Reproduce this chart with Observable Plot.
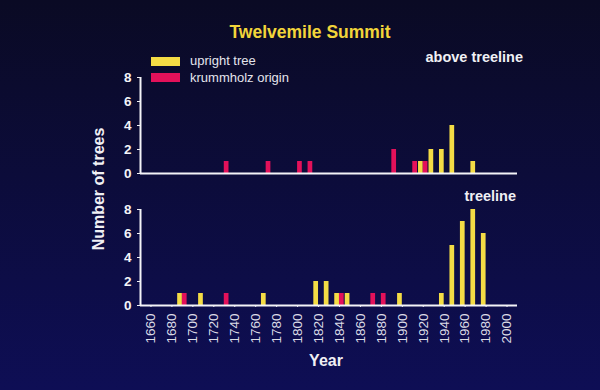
<!DOCTYPE html>
<html>
<head>
<meta charset="utf-8">
<script src="https://cdn.jsdelivr.net/npm/d3@7"></script>
<script src="https://cdn.jsdelivr.net/npm/@observablehq/plot@0.6"></script>
<style>
  html, body { margin: 0; padding: 0; }
  body { width: 600px; height: 390px; overflow: hidden;
         background: linear-gradient(to bottom, #0a0a24 0%, #0c0c3a 45%, #0e0e55 100%);
         font-family: "Liberation Sans", Arial, sans-serif; }
  #wrap { position: relative; width: 600px; height: 390px; }
  #chart { position: absolute; left: 0; top: 0; }
  .t { position: absolute; white-space: nowrap; line-height: 1; }
  #title { left: 310px; top: 24px; transform: translateX(-50%); color: #f2d53a; font-weight: bold; font-size: 17.5px; }
  .sw { position: absolute; left: 151px; width: 29px; height: 9px; }
  .lg { left: 190px; color: #e4e4ec; font-size: 13px; }
  .panel { color: #f0f0f4; font-weight: bold; font-size: 14.5px; }
  #ylab { left: 99px; top: 189px; transform: translate(-50%, -50%) rotate(-90deg); color: #f0f0f4; font-weight: bold; font-size: 16px; }
  #xlab { left: 326px; top: 353px; transform: translateX(-50%); color: #f0f0f4; font-weight: bold; font-size: 16px; }
  #chart g[aria-label="y-axis tick label"] text { font-weight: bold; font-size: 13.5px; fill: #f4f4f8; }
  #chart g[aria-label="x-axis tick label"] text { font-size: 13.5px; fill: #dcdce6; }
</style>
</head>
<body>
<div id="wrap">
  <div id="chart"></div>
  <div class="t" id="title">Twelvemile Summit</div>
  <div class="sw" id="sw1" style="top:57px"></div>
  <div class="t lg" id="lg1" style="top:54px">upright tree</div>
  <div class="sw" id="sw2" style="top:73px"></div>
  <div class="t lg" id="lg2" style="top:71px">krummholz origin</div>
  <div class="t panel" style="right:77px; top:50px">above treeline</div>
  <div class="t panel" style="right:84px; top:189px">treeline</div>
  <div class="t" id="ylab">Number of trees</div>
  <div class="t" id="xlab">Year</div>
</div>
<script>
// ---- data (decade of origin, number of trees) ----
const panels = ["above treeline", "treeline"];
const types = ["upright tree", "krummholz origin"];
const typeColors = ["#f4dc45", "#e3115a"];

const aboveUprightYears  = [1920, 1930, 1940, 1950, 1970];
const aboveUprightCounts = [1, 2, 2, 4, 1];
const aboveKrummYears    = [1730, 1770, 1800, 1810, 1890, 1910, 1920];
const aboveKrummCounts   = [1, 1, 1, 1, 2, 1, 1];

const treelineUprightYears  = [1690, 1710, 1770, 1820, 1830, 1840, 1850, 1900, 1940, 1950, 1960, 1970, 1980];
const treelineUprightCounts = [1, 1, 1, 2, 2, 1, 1, 1, 1, 5, 7, 8, 6];
const treelineKrummYears    = [1690, 1730, 1840, 1870, 1880];
const treelineKrummCounts   = [1, 1, 1, 1, 1];

const xTicks = d3.range(1660, 2001, 20);
const yTicks = [0, 2, 4, 6, 8];

// ---- build table ----
const barYears = 4.5; // width of each bar in years; upright left of decade mark, krummholz right
function rows(panel, type, years, counts) {
  const side = type === types[0] ? -1 : 0;
  return years.map((yr, i) => ({
    panel, type, year: yr, count: counts[i],
    x1: yr + side * barYears, x2: yr + (side + 1) * barYears
  }));
}
const data = [
  ...rows(panels[0], types[0], aboveUprightYears, aboveUprightCounts),
  ...rows(panels[0], types[1], aboveKrummYears, aboveKrummCounts),
  ...rows(panels[1], types[0], treelineUprightYears, treelineUprightCounts),
  ...rows(panels[1], types[1], treelineKrummYears, treelineKrummCounts)
];

document.getElementById("sw1").style.background = typeColors[0];
document.getElementById("sw2").style.background = typeColors[1];

const chart = Plot.plot({
  width: 600,
  height: 390,
  marginTop: 77,
  marginBottom: 84,
  marginLeft: 140,
  marginRight: 83,
  style: { background: "transparent", color: "#f0f0f4", fontFamily: "Liberation Sans, Arial, sans-serif", overflow: "visible" },
  x: { domain: [1650, 2010], ticks: xTicks, tickFormat: d => String(d), tickRotate: -90, tickSize: 2, tickPadding: 6, label: null },
  y: { domain: [0, 8], ticks: yTicks, tickSize: 3, tickPadding: 6, label: null },
  fy: { domain: panels, axis: null, paddingInner: 0.27, paddingOuter: 0, label: null },
  color: { domain: types, range: typeColors },
  marks: [
    Plot.rect(data, { x1: "x1", x2: "x2", y1: d => 0, y2: "count", fill: "type", fy: "panel" }),
    Plot.ruleY([0], { stroke: "#f4f4f8", strokeWidth: 2 }),
    Plot.ruleX([1650], { y1: d => 0, y2: d => 8, stroke: "#f4f4f8", strokeWidth: 2 })
  ]
});
document.getElementById("chart").appendChild(chart);
</script>
</body>
</html>
